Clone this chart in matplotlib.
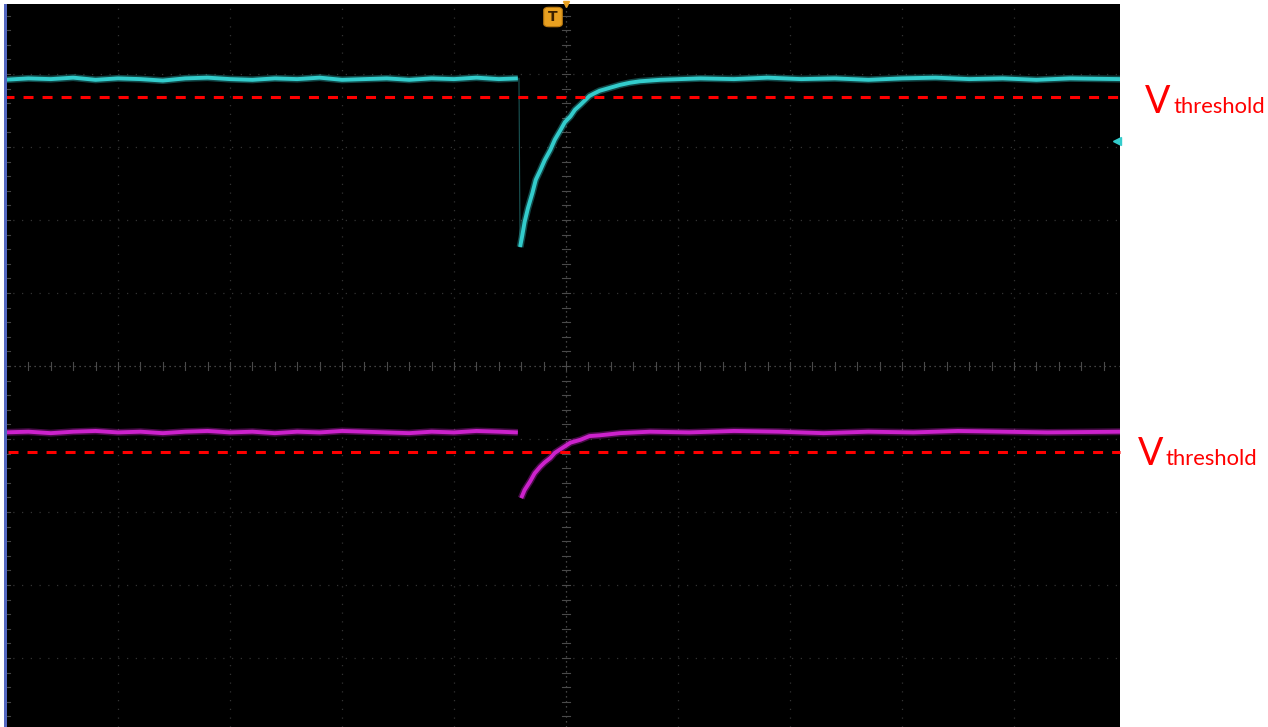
import matplotlib
matplotlib.use("Agg")
import matplotlib.pyplot as plt
from matplotlib.patches import FancyBboxPatch, Rectangle

# ---------------- data (x in horizontal divisions, y in vertical divisions) ----------------
cyan_pre_t = [-5.02, -4.80, -4.60, -4.40, -4.20, -4.00, -3.80, -3.60, -3.40, -3.20, -3.00,
              -2.80, -2.60, -2.40, -2.20, -2.00, -1.80, -1.60, -1.40, -1.20, -1.00, -0.80,
              -0.60, -0.43]
cyan_pre_v = [3.92, 3.94, 3.93, 3.95, 3.92, 3.94, 3.93, 3.91, 3.94, 3.95, 3.93,
              3.92, 3.94, 3.93, 3.95, 3.92, 3.93, 3.94, 3.92, 3.94, 3.93, 3.95,
              3.93, 3.94]
cyan_post_t = [-0.41, -0.39, -0.37, -0.34, -0.30, -0.27, -0.23, -0.19, -0.14, -0.10, -0.05,
               -0.01, 0.04, 0.08, 0.13, 0.17, 0.21, 0.26, 0.30, 0.39, 0.48, 0.57, 0.66,
               0.75, 0.84, 1.02, 1.20, 1.50, 1.80, 2.10, 2.40, 2.70, 3.00, 3.30, 3.60,
               3.90, 4.20, 4.50, 4.95]
cyan_post_v = [1.63, 1.79, 1.97, 2.16, 2.37, 2.55, 2.68, 2.82, 2.96, 3.10, 3.23,
               3.34, 3.42, 3.51, 3.58, 3.64, 3.70, 3.74, 3.77, 3.81, 3.85, 3.88, 3.90,
               3.91, 3.92, 3.93, 3.94, 3.93, 3.95, 3.93, 3.94, 3.92, 3.94, 3.95, 3.93,
               3.94, 3.92, 3.94, 3.93]

mag_pre_t = [-5.02, -4.80, -4.60, -4.40, -4.20, -4.00, -3.80, -3.60, -3.40, -3.20, -3.00,
             -2.80, -2.60, -2.40, -2.20, -2.00, -1.80, -1.60, -1.40, -1.20, -1.00, -0.80,
             -0.60, -0.43]
mag_pre_v = [-0.91, -0.90, -0.92, -0.90, -0.89, -0.91, -0.90, -0.92, -0.90, -0.89, -0.91,
             -0.90, -0.92, -0.90, -0.91, -0.89, -0.90, -0.91, -0.92, -0.90, -0.91, -0.89,
             -0.90, -0.91]
mag_post_t = [-0.40, -0.37, -0.32, -0.28, -0.23, -0.19, -0.14, -0.10, -0.05, -0.01, 0.04,
              0.13, 0.21, 0.30, 0.48, 0.75, 1.10, 1.50, 1.90, 2.30, 2.70, 3.10, 3.50,
              3.90, 4.30, 4.95]
mag_post_v = [-1.81, -1.70, -1.58, -1.47, -1.38, -1.32, -1.26, -1.19, -1.14, -1.10, -1.05,
              -1.01, -0.96, -0.95, -0.92, -0.90, -0.91, -0.89, -0.90, -0.92, -0.90, -0.91,
              -0.89, -0.90, -0.91, -0.90]

thresholds = [3.68, -1.18]
threshold_labels = [("V", "threshold"), ("V", "threshold")]

# ---------------- figure ----------------
W, H = 1268, 727
fig = plt.figure(figsize=(W / 100, H / 100), dpi=100)
fig.patch.set_facecolor("white")
ax = fig.add_axes([4 / W, 0, (1120 - 4) / W, 723 / H])
ax.set_facecolor("black")
for s in ax.spines.values():
    s.set_visible(False)
ax.set_xticks([])
ax.set_yticks([])
XMIN, XMAX = (4 - 566) / 112, (1120 - 566) / 112
YMIN, YMAX = (366 - 727) / 73, (366 - 4) / 73
ax.set_xlim(XMIN, XMAX)
ax.set_ylim(YMIN, YMAX)

# grid
grid_c = "#333333"
for k in range(-4, 5):
    if k == 0:
        continue
    ax.plot([k, k], [YMIN, YMAX], color=grid_c, lw=0.9, ls=(0, (1, 6)))
for k in range(-4, 5):
    if k == 0:
        continue
    ax.plot([XMIN, XMAX], [k, k], color=grid_c, lw=0.9, ls=(0, (1, 6)))
# centre cross with minor ticks
cc = "#5a5a5a"
ax.plot([0, 0], [YMIN, YMAX], color=cc, lw=0.9, ls=(0, (1, 3)))
ax.plot([XMIN, XMAX], [0, 0], color=cc, lw=0.9, ls=(0, (1, 3)))
ytk = [i / 5 for i in range(-25, 26)]
xtk = [i / 5 for i in range(-25, 26)]
for y in ytk:
    ax.plot([-0.035, 0.035], [y, y], color="#4a4a4a", lw=0.8)
    ax.plot([XMIN, XMIN + 0.05], [y, y], color="#444444", lw=0.8)
for x in xtk:
    ax.plot([x, x], [-0.05, 0.05], color="#4a4a4a", lw=0.8)

# traces
cyan = "#33cccc"
mag = "#cc22cc"
for t, v, c in [(cyan_pre_t, cyan_pre_v, cyan), (cyan_post_t, cyan_post_v, cyan),
                (mag_pre_t, mag_pre_v, mag), (mag_post_t, mag_post_v, mag)]:
    ax.plot(t, v, color=c, lw=5.0, alpha=0.35, solid_capstyle="butt", zorder=3)
    ax.plot(t, v, color=c, lw=2.8, alpha=1.0, solid_capstyle="butt", zorder=4)
# dim vertical transition
ax.plot([cyan_pre_t[-1] + 0.01, cyan_post_t[0]], [cyan_pre_v[-1], cyan_post_v[0]],
        color="#1a5555", lw=0.8, zorder=2)

# threshold lines
plt.rcParams["lines.scale_dashes"] = False
ax.plot([XMIN, XMAX], [thresholds[0]] * 2, color="red", lw=2.2,
        dashes=(7.2, 6.5), zorder=5, clip_on=False)
ax.plot([XMIN + 0.04, XMAX], [thresholds[1]] * 2, color="red", lw=2.2,
        dashes=(7.2, 6.5), zorder=5, clip_on=False)

# channel marker on right
ax.plot([XMAX - 0.03], [(366 - 141) / 73], marker="<", ms=6, color=cyan, zorder=6, clip_on=False)

# blue left bar
fig.patches.append(Rectangle((4 / W, 0), 3 / W, 723 / H, transform=fig.transFigure,
                             facecolor="#5468c0", edgecolor="none", zorder=10))

# trigger marker
fig.patches.append(FancyBboxPatch((545 / W, 1 - 26 / H), 16 / W, 18 / H,
                                  boxstyle="round,pad=0.001,rounding_size=0.004",
                                  transform=fig.transFigure, facecolor="#e8a020",
                                  edgecolor="#b87810", lw=0.8, zorder=10))
fig.text(553 / W, 1 - 17 / H, "T", color="#3a2000", fontsize=10, fontweight="bold",
         ha="center", va="center", zorder=11)
ax.plot([0], [YMAX], marker="v", ms=5, color="#e8a020", clip_on=False, zorder=7)

# labels
lab_font = "Lato"
for (big, small), (xv, xs, yb) in zip(threshold_labels,
                                      [(1145, 1173, 113), (1138, 1165, 465)]):
    fig.text(xv / W, 1 - yb / H, big, color="red", fontsize=27, family=lab_font,
             ha="left", va="baseline")
    fig.text(xs / W, 1 - yb / H, small, color="red", fontsize=15.8, family=lab_font,
             ha="left", va="baseline")

fig.savefig("out.png", dpi=100, facecolor="white")
